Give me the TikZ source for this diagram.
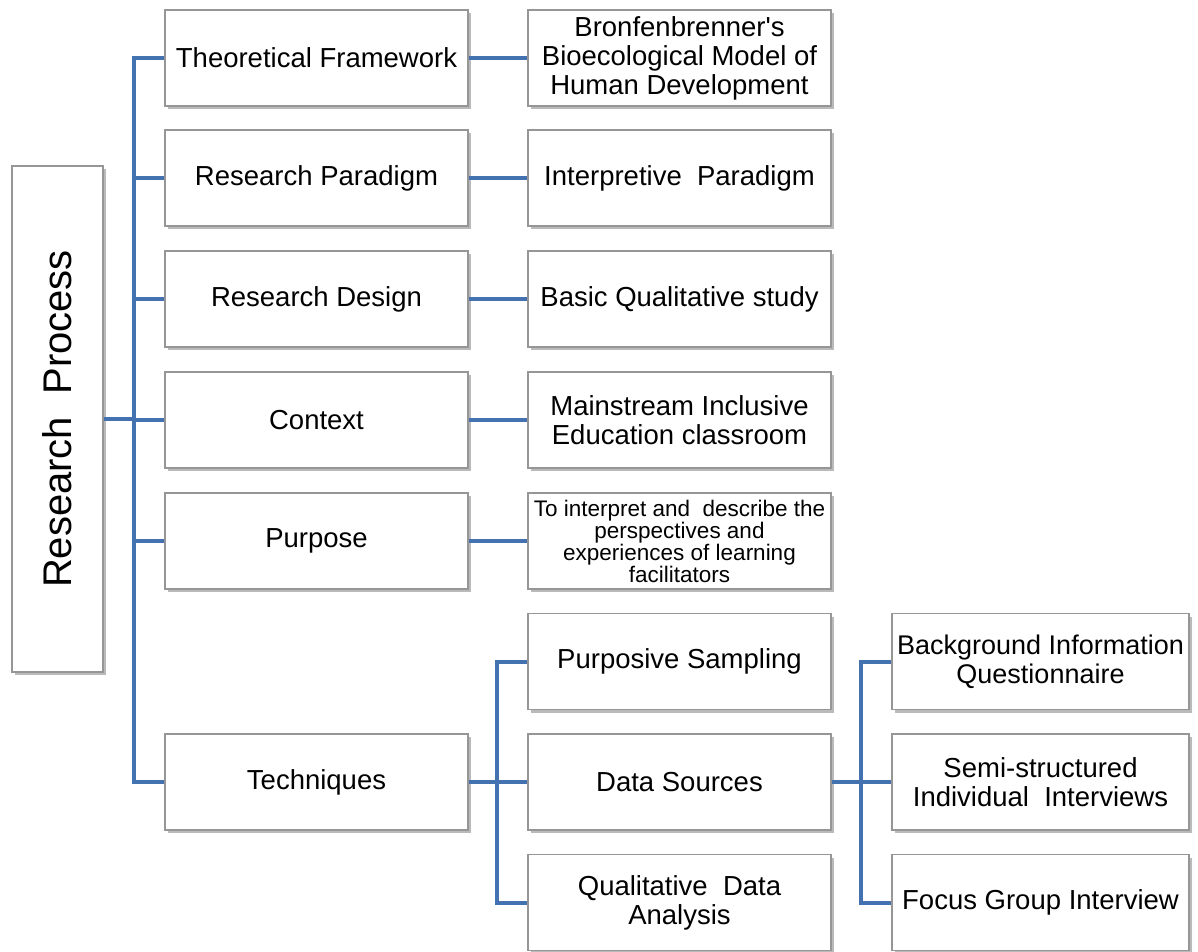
\documentclass[tikz,border=0pt]{standalone}
\usepackage{fontspec}
\setmainfont{Liberation Sans}
\usetikzlibrary{shadows}
\definecolor{conncol}{RGB}{68,114,176}
\definecolor{boxline}{RGB}{150,150,150}
\begin{document}
\begin{tikzpicture}[x=1pt,y=-1pt,
  box/.style={draw=boxline, fill=white, line width=1.1pt, minimum width=303pt, minimum height=96pt,
    inner sep=2pt, align=center, font=\fontsize{27.5}{29}\selectfont,
    drop shadow={shadow xshift=2.5pt, shadow yshift=-3pt, opacity=0.45, fill=black!60}},
  narrow/.style={minimum width=297pt},
  conn/.style={draw=conncol, line width=4pt}]
\useasboundingbox (0,0) rectangle (1198,951);
% root
\node[box, minimum width=91pt, minimum height=506pt] (root) at (57.5,419) {};
\node[rotate=90, font=\fontsize{40}{44}\selectfont] (roottext) at (root.center) {Research\ \ Process};
% column 1
\node[box] (tf) at (316.5,58) {Theoretical Framework};
\node[box] (rp) at (316.5,178) {Research Paradigm};
\node[box] (rd) at (316.5,299) {Research Design};
\node[box] (ctx) at (316.5,420) {Context};
\node[box] (pur) at (316.5,541) {Purpose};
\node[box] (tech) at (316.5,782) {Techniques};
% column 2
\node[box] (bron) at (679.5,58) {Bronfenbrenner\textquotesingle s\\Bioecological Model of\\Human Development};
\node[box] (interp) at (679.5,178) {Interpretive\ \ Paradigm};
\node[box] (basic) at (679.5,299) {Basic Qualitative study};
\node[box] (main) at (679.5,420) {Mainstream Inclusive\\Education classroom};
\node[box, font=\fontsize{22.5}{20.5}\selectfont] (tointerp) at (679.5,541) {To interpret and\ \ describe the\\perspectives and\\experiences of learning\\facilitators};
\node[box] (ps) at (679.5,661.5) {Purposive Sampling};
\node[box] (ds) at (679.5,782) {Data Sources};
\node[box] (qda) at (679.5,902.5) {Qualitative\ \ Data\\Analysis};
% column 3
\node[box, narrow, inner xsep=0pt, font=\fontsize{27}{29}\selectfont] (biq) at (1040.5,661.5) {Background Information\\Questionnaire};
\node[box, narrow] (ssi) at (1040.5,782) {Semi-structured\\Individual\ \ Interviews};
\node[box, narrow] (fgi) at (1040.5,902.5) {Focus Group Interview};
% connectors
\coordinate (tx) at (134,0);
\coordinate (tx2) at (497,0);
\coordinate (tx3) at (861,0);
\draw[conn] (root.east) -- (root.east -| tx);
\draw[conn] (tf.west) -- (tf.west -| tx) -- (tech.west -| tx) -- (tech.west);
\foreach \n in {rp,rd,ctx,pur} \draw[conn] (\n.west) -- (\n.west -| tx);
\draw[conn] (tf.east) -- (bron.west);
\draw[conn] (rp.east) -- (interp.west);
\draw[conn] (rd.east) -- (basic.west);
\draw[conn] (ctx.east) -- (main.west);
\draw[conn] (pur.east) -- (tointerp.west);
\draw[conn] (tech.east) -- (ds.west);
\draw[conn] (ps.west) -- (ps.west -| tx2) -- (qda.west -| tx2) -- (qda.west);
\draw[conn] (ds.east) -- (ssi.west);
\draw[conn] (biq.west) -- (biq.west -| tx3) -- (fgi.west -| tx3) -- (fgi.west);
\end{tikzpicture}
\end{document}
